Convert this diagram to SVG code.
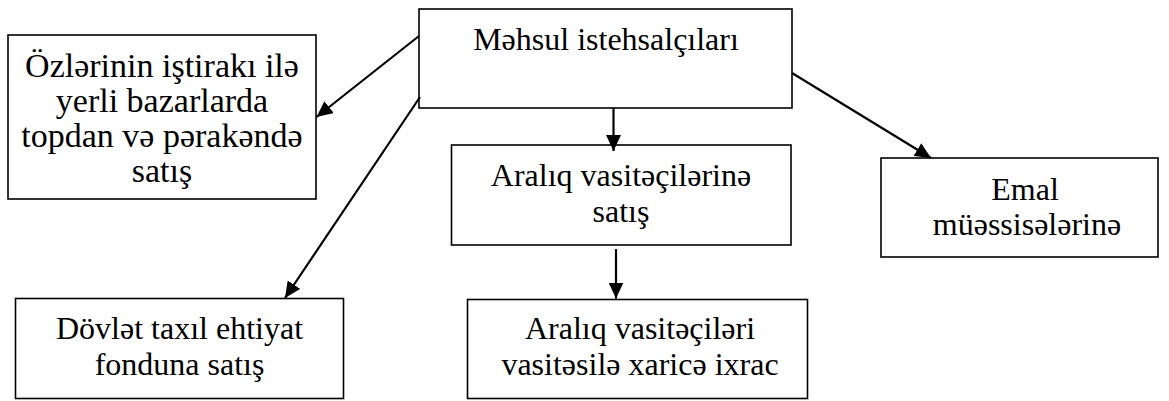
<svg xmlns="http://www.w3.org/2000/svg" width="1169" height="401" viewBox="0 0 1169 401">
<style>
.box{fill:#fff;stroke:#000;stroke-width:1.6}
.lbl{font-family:"Liberation Serif","Times New Roman",serif;font-size:32px;fill:#000;text-anchor:middle}
.big{font-size:34px}
.con{stroke:#000;stroke-width:2.2;fill:none}
</style>
<defs>
<marker id="ah" markerUnits="userSpaceOnUse" markerWidth="16" markerHeight="15" viewBox="0 0 16 15" refX="16" refY="7.5" orient="auto">
<path d="M0,0 L16,7.5 L0,15 Z" fill="#000"/>
</marker>
</defs>
<rect width="1169" height="401" fill="#fff"/>
<g id="n_producers">
<rect class="box" x="419" y="9" width="373" height="99"/>
<text class="lbl" x="606" y="50">Məhsul istehsalçıları</text>
</g>
<g id="n_local">
<rect class="box" x="8" y="35" width="308" height="164"/>
<text class="lbl big" x="162" y="77">Özlərinin iştirakı ilə</text>
<text class="lbl big" x="162" y="112">yerli bazarlarda</text>
<text class="lbl big" x="162" y="147">topdan və pərakəndə</text>
<text class="lbl big" x="162" y="182">satış</text>
</g>
<g id="n_intermediaries">
<rect class="box" x="451.5" y="145" width="339.5" height="100"/>
<text class="lbl" x="621" y="186">Aralıq vasitəçilərinə</text>
<text class="lbl" x="621" y="221.5">satış</text>
</g>
<g id="n_processing">
<rect class="box" x="881" y="158" width="277" height="99"/>
<text class="lbl" x="1025" y="200">Emal</text>
<text class="lbl" x="1027" y="235">müəssisələrinə</text>
</g>
<g id="n_state">
<rect class="box" x="15.5" y="298.5" width="328" height="100"/>
<text class="lbl" x="179.5" y="338.5">Dövlət taxıl ehtiyat</text>
<text class="lbl" x="179.5" y="374.5">fonduna satış</text>
</g>
<g id="n_export">
<rect class="box" x="467.5" y="299.5" width="340" height="99"/>
<text class="lbl" x="640" y="338.5">Aralıq vasitəçiləri</text>
<text class="lbl" x="640" y="374.5">vasitəsilə xaricə ixrac</text>
</g>
<g id="connectors">
<line class="con" x1="419" y1="36" x2="316.5" y2="117" marker-end="url(#ah)"/>
<line class="con" x1="420" y1="97" x2="285" y2="298" marker-end="url(#ah)"/>
<line class="con" x1="613.5" y1="108" x2="613.5" y2="151" marker-end="url(#ah)"/>
<line class="con" x1="616" y1="249" x2="616" y2="298.5" marker-end="url(#ah)"/>
<line class="con" x1="792" y1="73" x2="931" y2="158" marker-end="url(#ah)"/>
</g>
</svg>
